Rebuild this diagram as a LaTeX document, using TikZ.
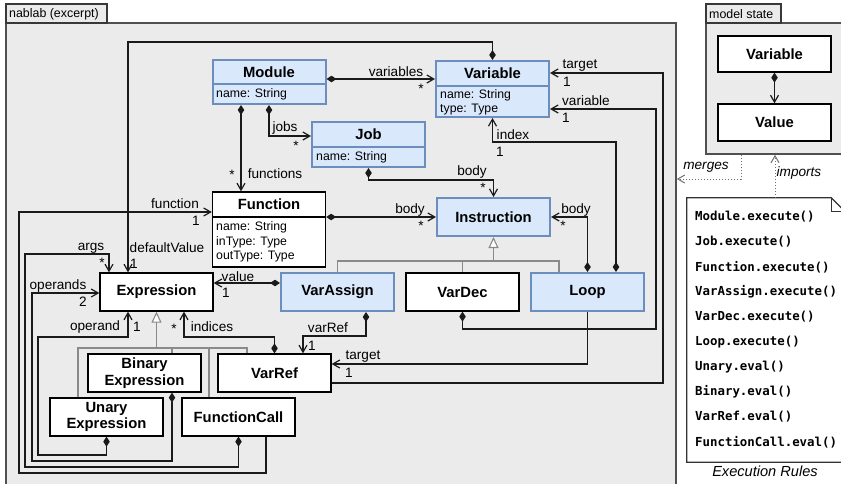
\documentclass[tikz,border=0pt]{standalone}
\usepackage{fontspec}
\setmainfont{Liberation Sans}
\newfontfamily\rulefont{DejaVu Sans Mono}
\usetikzlibrary{arrows.meta}

\definecolor{framefill}{HTML}{EBEBEB}
\definecolor{frameline}{HTML}{505050}
\definecolor{classfill}{HTML}{DAE8FC}
\definecolor{classline}{HTML}{6C8EBF}
\definecolor{genline}{HTML}{8A8A8A}
\definecolor{linkline}{HTML}{1A1A1A}
\definecolor{depline}{HTML}{707070}

\tikzset{
  frame/.style={draw=frameline, line width=1.6pt, fill=framefill, inner sep=0pt},
  frametab/.style={draw=frameline!70!black, line width=1.2pt, fill=framefill, inner sep=0pt},
  tabtext/.style={font=\fontsize{12.4}{14}\selectfont, anchor=west, inner sep=0pt},
  classfont/.style={font=\fontsize{14.8}{16.5}\selectfont\bfseries, align=center},
  blueclass/.style={draw=classline, line width=2pt, fill=classfill, inner sep=0pt, classfont},
  whiteclass/.style={draw=black, line width=1.3pt, fill=white, inner sep=0pt, classfont},
  stdbox/.style={minimum width=113pt, minimum height=38pt},
  bluesplit/.style={draw=classline, line width=2pt},
  whitesplit/.style={draw=black, line width=1.3pt},
  cname/.style={classfont, inner sep=0pt},
  attr/.style={font=\fontsize{12.3}{15}\selectfont, anchor=west, inner sep=0pt},
  lbl/.style={font=\fontsize{13.6}{15}\selectfont, inner sep=0pt},
  itlbl/.style={font=\fontsize{13.6}{15}\selectfont\itshape, inner sep=0pt},
  link/.style={draw=linkline, line width=1.2pt},
  comp/.style={link, {Diamond[length=10pt,width=6.5pt]}-{Straight Barb[length=7pt,width=8pt]}},
  ref/.style={link, -{Straight Barb[length=7pt,width=8pt]}},
  gen/.style={draw=genline, line width=1.1pt},
  gentip/.style={gen, -{Triangle[length=11pt,width=10pt,fill=white]}},
  dep/.style={draw=depline, line width=1pt, dotted, -{Straight Barb[length=7pt,width=8pt]}},
  noteline/.style={draw=black!80, line width=1.2pt, fill=white},
  rule/.style={font=\rulefont\bfseries\fontsize{12.4}{14}\selectfont, anchor=west, inner sep=0pt},
}

\begin{document}
\begin{tikzpicture}[x=1pt,y=-1pt]
\useasboundingbox (0,0) rectangle (841,483);
\clip (0,0) rectangle (841,483);
\fill[white] (0,0) rectangle (841,483);

% ---------- package frames ----------
\node[frame, minimum width=670pt, minimum height=472pt] (nablab) at (341,259) {};
\node[frametab, minimum width=101pt, minimum height=19pt] (nablabtab) at (56.5,13.5) {};
\node[tabtext] (nablabtitle) at (9,14) {nablab (excerpt)};

\node[frame, minimum width=150pt, minimum height=131pt] (modelstate) at (781,88.5) {};
\node[frametab, minimum width=75pt, minimum height=19pt] (modelstatetab) at (743.5,13.5) {};
\node[tabtext] (modelstatetitle) at (709,14) {model state};

% ---------- model state classes ----------
\node[whiteclass, minimum width=113pt, minimum height=36pt] (statevar) at (774.5,54) {Variable};
\node[whiteclass, minimum width=113pt, minimum height=37pt] (stateval) at (774.5,122.5) {Value};
\draw[comp] (statevar.south) -- (stateval.north);

% ---------- execution rules note ----------
\node[inner sep=0pt, minimum width=158pt, minimum height=264pt] (rules) at (766,330) {};
\filldraw[noteline] (rules.north west) -- ([xshift=-14pt]rules.north east)
  -- ([yshift=-14pt]rules.north east) -- (rules.south east) -- (rules.south west) -- cycle;
\draw[noteline, fill=none] ([xshift=-14pt]rules.north east)
  -- ([xshift=-14pt,yshift=-14pt]rules.north east) -- ([yshift=-14pt]rules.north east);
\node[rule] (r1) at (695,217) {Module.execute()};
\node[rule] (r2) at (695,242) {Job.execute()};
\node[rule] (r3) at (695,267) {Function.execute()};
\node[rule] (r4) at (695,292) {VarAssign.execute()};
\node[rule] (r5) at (695,317) {VarDec.execute()};
\node[rule] (r6) at (695,342) {Loop.execute()};
\node[rule] (r7) at (695,367) {Unary.eval()};
\node[rule] (r8) at (695,392) {Binary.eval()};
\node[rule] (r9) at (695,417) {VarRef.eval()};
\node[rule] (r10) at (695,442) {FunctionCall.eval()};
\node[font=\fontsize{14.6}{16}\selectfont\itshape, inner sep=0pt] (rulescaption) at (765,471) {Execution Rules};

\draw[dep] (modelstate.south -| 741,0) |- (nablab.east |- 0,179);
\draw[dep] (rules.north -| 775,0) -- (modelstate.south -| 775,0);
\node[itlbl] (mergeslbl) at (706,167) {merges};
\node[itlbl] (importslbl) at (799,173) {imports};

% ---------- nablab classes ----------
\node[blueclass, minimum width=113pt, minimum height=44pt] (module) at (269,82) {};
\draw[bluesplit] (module.west |- 0,84) -- (module.east |- 0,84);
\node[cname] (modulename) at (269,72) {Module};
\node[attr] (moduleattr) at (216,94.5) {name: String};

\node[blueclass, minimum width=113pt, minimum height=56pt] (variable) at (492.5,89) {};
\draw[bluesplit] (variable.west |- 0,86) -- (variable.east |- 0,86);
\node[cname] (variablename) at (492.5,73.5) {Variable};
\node[attr] (variableattr1) at (440,95.5) {name: String};
\node[attr] (variableattr2) at (440,110) {type: Type};

\node[blueclass, minimum width=113pt, minimum height=45pt] (job) at (368.5,144.5) {};
\draw[bluesplit] (job.west |- 0,147) -- (job.east |- 0,147);
\node[cname] (jobname) at (368.5,134.5) {Job};
\node[attr] (jobattr) at (316,157.5) {name: String};

\node[whiteclass, minimum width=113pt, minimum height=75pt] (function) at (269,229.5) {};
\draw[whitesplit] (function.west |- 0,217) -- (function.east |- 0,217);
\node[cname] (functionname) at (269,204.5) {Function};
\node[attr] (functionattr1) at (216,227.5) {name: String};
\node[attr] (functionattr2) at (216,242.5) {inType: Type};
\node[attr] (functionattr3) at (216,257) {outType: Type};

\node[blueclass, stdbox] (instruction) at (493.5,217) {Instruction};
\node[whiteclass, stdbox] (expression) at (156.5,292) {Expression};
\node[blueclass, stdbox] (varassign) at (337.5,292) {VarAssign};
\node[whiteclass, stdbox] (vardec) at (462.5,292) {VarDec};
\node[blueclass, stdbox] (loop) at (587.5,292) {Loop};
\node[whiteclass, stdbox] (varref) at (274.5,373) {VarRef};
\node[whiteclass, stdbox] (binary) at (144.5,373) {Binary\\Expression};
\node[whiteclass, stdbox] (unary) at (106.5,417) {Unary\\Expression};
\node[whiteclass, stdbox] (funcall) at (238.5,417) {FunctionCall};

% ---------- generalizations ----------
\draw[gentip] (instruction.south |- 0,261) -- (instruction.south);
\draw[gen] (varassign.north) -- (337.5,261) -- (559,261) -- (loop.north -| 559,0);
\draw[gen] (vardec.north) -- (462.5,261);

\draw[gentip] (expression.south |- 0,348) -- (expression.south);
\draw[gen] (unary.north -| 78,0) -- (78,348) -- (247,348) -- (varref.north -| 247,0);
\draw[gen] (binary.north -| 172,0) -- (172,348);
\draw[gen] (funcall.north -| 209,0) -- (209,348);

% ---------- associations ----------
\draw[comp] (module.east |- 0,79) -- (variable.west |- 0,79);
\draw[comp] (module.south) |- (job.west |- 0,136);
\draw[comp] (module.south -| 241,0) -- (function.north -| 241,0);
\draw[comp] (job.south) -- (368.5,180) -| (instruction.north);
\draw[comp] (function.east |- 0,217) -- (instruction.west);
\draw[comp] (loop.north) |- (instruction.east);
\draw[comp] (loop.north -| 616,0) -- (616,142) -| (variable.south);
\draw[comp] (variable.north) -- (492.5,42) -| (expression.north -| 128,0);
\draw[ref]  (funcall.south -| 266,0) -- (266,473) -| (19,212) -- (function.west |- 0,212);
\draw[comp] (funcall.south) -- (238.5,467) -| (25,254) -| (expression.north -| 109,0);
\draw[comp] (binary.south -| 172,0) -- (172,461) -| (32,293) -- (expression.west |- 0,293);
\draw[comp] (unary.south) -- (106.5,455) -| (38,337) -| (expression.south -| 128,0);
\draw[comp] (varref.north) -- (274.5,337) -| (expression.south -| 184,0);
\draw[comp] (varassign.west |- 0,283) -- (expression.east |- 0,283);
\draw[comp] (varassign.south -| 366,0) -- (366,336) -| (varref.north -| 303,0);
\draw[ref]  (loop.south) |- (varref.east |- 0,364);
\draw[comp] (vardec.south) -- (462.5,329) -| (656,109) -- (variable.east |- 0,109);
\draw[ref]  (varref.east |- 0,383) -| (663,73) -- (variable.east |- 0,73);

% ---------- role names and multiplicities ----------
\node[lbl] (l1) at (396,72) {variables};
\node[lbl] (m1) at (421,89) {*};
\node[lbl] (l2) at (285,128) {jobs};
\node[lbl] (m2) at (296,146) {*};
\node[lbl] (l3) at (275,174) {functions};
\node[lbl] (m3) at (232,175) {*};
\node[lbl] (l4) at (472,172) {body};
\node[lbl] (m4) at (483,188) {*};
\node[lbl] (l5) at (410,210) {body};
\node[lbl] (m5) at (421,226) {*};
\node[lbl] (l6) at (576,210) {body};
\node[lbl] (m6) at (563,226) {*};
\node[lbl] (l7) at (513,135) {index};
\node[lbl] (m7) at (500,152) {1};
\node[lbl] (l8) at (580,66) {target};
\node[lbl] (m8) at (567,82) {1};
\node[lbl] (l9) at (586,101) {variable};
\node[lbl] (m9) at (566,118) {1};
\node[lbl] (l10) at (167,248) {defaultValue};
\node[lbl] (m10) at (134,264) {1};
\node[lbl] (l11) at (91,248) {args};
\node[lbl] (m11) at (102,263) {*};
\node[lbl] (l12) at (175,204) {function};
\node[lbl] (m12) at (196,221) {1};
\node[lbl] (l13) at (58,286) {operands};
\node[lbl] (m13) at (83,302) {2};
\node[lbl] (l14) at (238,277) {value};
\node[lbl] (m14) at (226,293) {1};
\node[lbl] (l15) at (95,327) {operand};
\node[lbl] (m15) at (137,327) {1};
\node[lbl] (l16) at (212,327) {indices};
\node[lbl] (m16) at (174,329) {*};
\node[lbl] (l17) at (328,328) {varRef};
\node[lbl] (m17) at (312,346) {1};
\node[lbl] (l18) at (363,357) {target};
\node[lbl] (m18) at (349,373) {1};
\end{tikzpicture}
\end{document}
